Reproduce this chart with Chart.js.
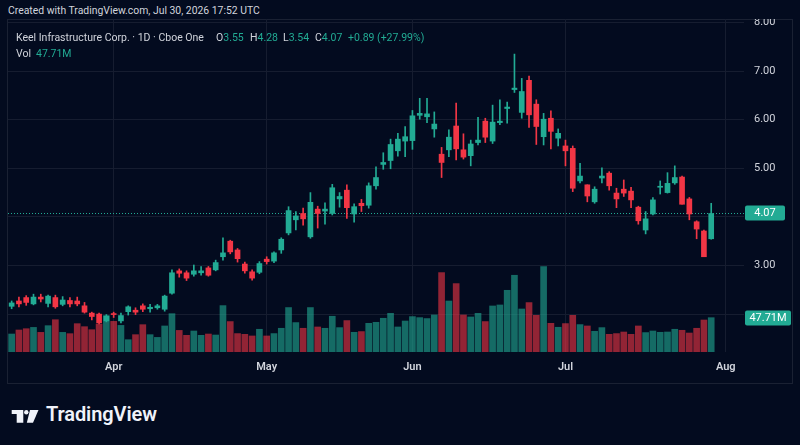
<!DOCTYPE html>
<html>
<head>
<meta charset="utf-8">
<title>Keel Infrastructure Corp. 1D</title>
<script src="https://cdn.jsdelivr.net/npm/chart.js@4.4.1/dist/chart.umd.min.js"></script>
<style>
    html, body { margin: 0; padding: 0; background: #030b1f; }
    body { width: 800px; height: 445px; position: relative; overflow: hidden;
           font-family: Roboto, "Noto Sans", sans-serif; color: #d1d4dc; }
    .abs { position: absolute; white-space: nowrap; }
    .up { color: #22ab94; }
    #hdr { left: 8px; top: 4px; font-size: 10.4px; }
    .lg { font-size: 10.5px; }
    #frame { position: absolute; left: 7px; top: 19px; width: 786px; height: 365px;
             border: 1px solid #1a2133; box-sizing: border-box; }
    #wrap { position: absolute; left: 8px; top: 19px; width: 784px; height: 364px; }
    #brand { left: 46px; top: 402px; font-size: 20px; font-weight: 600; color: #f0f3fa; letter-spacing: -0.1px; }
</style>
</head>
<body>
<div class="abs" id="hdr">Created with TradingView.com, Jul 30, 2026 17:52 UTC</div>
<div id="frame"></div>
<div id="wrap"><canvas id="chart" width="784" height="364"></canvas></div>

<!-- legend row -->
<div class="abs lg" style="left:16px; top:31px;">Keel Infrastructure Corp. · 1D · Cboe One</div>
<div class="abs lg" style="left:216px; top:31px;">O<span class="up">3.55</span></div>
<div class="abs lg" style="left:250px; top:31px;">H<span class="up">4.28</span></div>
<div class="abs lg" style="left:283px; top:31px;">L<span class="up">3.54</span></div>
<div class="abs lg" style="left:315px; top:31px;">C<span class="up">4.07</span></div>
<div class="abs lg up" style="left:348px; top:31px;">+0.89 (+27.99%)</div>
<div class="abs lg" style="left:16px; top:47px;">Vol</div>
<div class="abs lg up" style="left:36px; top:47px;">47.71M</div>

<!-- TradingView mark -->
<svg class="abs" style="left:0; top:400px;" width="44" height="30" viewBox="0 400 44 30">
    <polygon points="11.7,410 23.3,410 23.3,422.7 16.7,422.7 16.7,414 11.7,414" fill="#f0f3fa"/>
    <circle cx="26.3" cy="412.2" r="2.2" fill="#f0f3fa"/>
    <polygon points="30,410 38.5,410 33,422.7 26.8,422.7" fill="#f0f3fa"/>
</svg>
<div class="abs" id="brand">TradingView</div>

<script>
// daily candles, mid March -> Jul 30
const opens = [
    2.16, 2.27, 2.34, 2.21, 2.35, 2.22, 2.34, 2.20, 2.28, 2.27,
    2.17, 2.02, 2.00, 1.86, 2.01, 1.86, 2.05, 2.08, 2.17, 2.11,
    2.13, 2.10, 2.43, 2.89, 2.85, 2.82, 2.85, 2.95, 2.91, 3.18,
    3.50, 3.32, 3.03, 2.87, 2.86, 3.13, 3.09, 3.32, 3.67, 3.94,
    4.07, 3.59, 4.16, 4.12, 4.07, 4.37, 4.55, 4.06, 4.28, 4.24,
    4.64, 5.08, 5.16, 5.36, 5.56, 5.57, 6.09, 6.06, 5.81, 5.29,
    5.38, 5.87, 5.38, 5.26, 5.53, 5.97, 5.56, 5.94, 6.23, 6.62,
    6.15, 6.81, 6.32, 5.65, 6.03, 5.62, 5.46, 5.41, 4.74, 4.66,
    4.31, 4.80, 4.90, 4.49, 4.57, 4.53, 4.20, 3.73, 4.06, 4.61,
    4.50, 4.70, 4.82, 4.37, 3.90, 3.71, 3.55
];
const highs = [
    2.27, 2.35, 2.38, 2.41, 2.41, 2.39, 2.39, 2.36, 2.34, 2.35,
    2.24, 2.04, 2.02, 1.99, 2.04, 2.02, 2.17, 2.13, 2.21, 2.20,
    2.20, 2.39, 2.91, 2.93, 2.89, 3.01, 2.98, 2.98, 3.11, 3.57,
    3.52, 3.35, 3.07, 2.91, 3.08, 3.18, 3.28, 3.57, 4.21, 4.11,
    4.18, 4.50, 4.22, 4.29, 4.67, 4.50, 4.66, 4.27, 4.36, 4.70,
    5.03, 5.32, 5.60, 5.72, 5.86, 6.19, 6.44, 6.44, 6.16, 5.43,
    5.79, 6.34, 5.71, 5.58, 6.05, 6.03, 6.30, 6.41, 6.36, 7.35,
    6.85, 6.90, 6.41, 6.13, 6.18, 5.81, 5.58, 5.46, 5.10, 4.66,
    4.62, 5.01, 4.93, 4.59, 4.76, 4.61, 4.22, 4.11, 4.40, 4.74,
    4.91, 5.05, 4.84, 4.40, 3.92, 3.73, 4.28
];
const lows = [
    2.11, 2.15, 2.18, 2.19, 2.25, 2.15, 2.12, 2.17, 2.15, 2.17,
    2.02, 1.88, 1.80, 1.84, 1.93, 1.82, 1.98, 1.99, 2.05, 2.04,
    2.10, 2.06, 2.41, 2.76, 2.69, 2.78, 2.80, 2.78, 2.89, 3.11,
    3.24, 3.07, 2.84, 2.70, 2.83, 3.03, 3.06, 3.25, 3.63, 3.73,
    3.83, 3.56, 3.77, 3.85, 4.04, 4.20, 3.97, 3.89, 4.11, 4.18,
    4.57, 4.98, 4.99, 5.25, 5.24, 5.39, 6.01, 5.94, 5.64, 4.81,
    5.24, 5.17, 5.19, 5.05, 5.48, 5.53, 5.51, 5.90, 5.93, 6.56,
    6.03, 5.84, 5.49, 5.48, 5.40, 5.46, 5.05, 4.52, 4.70, 4.31,
    4.28, 4.70, 4.55, 4.19, 4.42, 4.19, 3.85, 3.65, 4.04, 4.47,
    4.49, 4.67, 4.26, 3.94, 3.55, 3.18, 3.54
];
const closes = [
    2.23, 2.21, 2.24, 2.35, 2.31, 2.37, 2.15, 2.29, 2.21, 2.21,
    2.04, 1.95, 1.82, 1.96, 1.99, 1.97, 2.15, 2.04, 2.10, 2.14,
    2.17, 2.37, 2.85, 2.84, 2.74, 2.89, 2.89, 2.80, 3.06, 3.26,
    3.28, 3.14, 2.89, 2.74, 3.04, 3.08, 3.26, 3.54, 4.13, 4.02,
    3.96, 4.30, 4.07, 4.16, 4.60, 4.42, 4.19, 4.21, 4.23, 4.64,
    4.81, 5.12, 5.49, 5.60, 5.65, 6.08, 6.13, 6.12, 5.91, 5.12,
    5.64, 5.40, 5.23, 5.50, 5.58, 5.64, 5.95, 5.97, 6.26, 6.65,
    6.58, 6.10, 5.86, 6.01, 5.76, 5.72, 5.36, 4.59, 4.84, 4.43,
    4.57, 4.84, 4.64, 4.37, 4.49, 4.35, 3.92, 3.96, 4.35, 4.63,
    4.69, 4.81, 4.26, 4.06, 3.75, 3.18, 4.07
];
// volume in millions
const volumes = [
    25.0, 30.6, 32.4, 34.2, 27.3, 36.6, 44.9, 27.3, 25.5, 39.4,
    35.2, 31.0, 38.9, 50.5, 42.6, 37.0, 17.1, 24.1, 38.0, 24.1,
    20.3, 36.2, 53.3, 30.0, 23.2, 29.2, 23.2, 25.0, 23.6, 64.5,
    42.3, 25.6, 24.6, 22.3, 31.6, 22.3, 25.6, 33.0, 61.8, 40.9,
    33.0, 61.8, 34.8, 33.0, 49.7, 33.9, 43.7, 27.4, 28.4, 39.9,
    41.3, 46.9, 53.8, 34.8, 43.1, 49.2, 47.8, 46.5, 51.5, 110.4,
    70.9, 95.1, 51.5, 48.7, 53.8, 42.3, 64.0, 65.4, 85.8, 106.7,
    59.8, 68.7, 51.0, 118.8, 39.9, 34.4, 39.5, 51.0, 38.1, 36.2,
    28.8, 33.9, 24.6, 25.6, 27.8, 24.6, 36.2, 27.0, 29.2, 27.4,
    27.8, 31.6, 30.2, 26.4, 33.0, 44.5, 47.71
];

// time axis: bar index where each month starts
const monthNames = ["Apr", "May", "Jun", "Jul", "Aug"];
const monthStart = [14, 35, 55, 76, 98];
const slotCount = 101; // a few empty slots after the last bar

const priceTicks = [2, 3, 4, 5, 6, 7, 8];

const upColor = "#22ab94";
const downColor = "#f23645";
const upVol = "rgba(34, 171, 148, 0.6)";
const downVol = "rgba(242, 54, 69, 0.6)";
const gridColor = "#161d30";
const textColor = "#d1d4dc";

const labels = [];
for (let i = 0; i < slotCount; i++) {
    const m = monthStart.indexOf(i);
    labels.push(m >= 0 ? monthNames[m] : "");
}

const isUp = closes.map((c, i) => c >= opens[i]);
const bodyColors = isUp.map((u) => (u ? upColor : downColor));
const volColors = isUp.map((u) => (u ? upVol : downVol));

const last = closes.length - 1;

// tag on the price axis
function drawTag(ctx, text, x, y, w) {
    ctx.fillStyle = upColor;
    ctx.beginPath();
    ctx.roundRect(x, Math.round(y) - 7.5, w, 15, 2);
    ctx.fill();
    ctx.fillStyle = "#ffffff";
    ctx.font = "11px Roboto, 'Noto Sans', sans-serif";
    ctx.textAlign = "center";
    ctx.textBaseline = "middle";
    ctx.fillText(text, x + w / 2, Math.round(y) + 0.5);
}

// no extra room for edge labels, the plot fills the frame
function noPadding(scale) {
    scale.paddingTop = 0;
    scale.paddingBottom = 0;
    scale.paddingLeft = 0;
    scale.paddingRight = 0;
}

const lastPricePlugin = {
    id: "lastPrice",
    beforeDatasetsDraw(chart) {
        const { ctx, chartArea, scales } = chart;
        const y = Math.round(scales.y.getPixelForValue(closes[last])) + 0.5;
        ctx.save();
        ctx.strokeStyle = upColor;
        ctx.lineWidth = 1;
        ctx.setLineDash([1, 2]);
        ctx.beginPath();
        ctx.moveTo(chartArea.left, y);
        ctx.lineTo(chartArea.right, y);
        ctx.stroke();
        ctx.restore();
    },
    afterDraw(chart) {
        const { ctx, chartArea, scales } = chart;
        ctx.save();
        drawTag(ctx, closes[last].toFixed(2), chartArea.right + 1, scales.y.getPixelForValue(closes[last]), 40);
        drawTag(ctx, volumes[last].toFixed(2) + "M", chartArea.right + 1, scales.yv.getPixelForValue(volumes[last]), 46);
        ctx.restore();
    },
};

new Chart(document.getElementById("chart"), {
    type: "bar",
    data: {
        labels: labels,
        datasets: [
            {
                // candle bodies
                data: opens.map((o, i) => [o, closes[i]]),
                backgroundColor: bodyColors,
                barThickness: 5,
                minBarLength: 1,
                grouped: false,
                yAxisID: "y",
                order: 0,
            },
            {
                // wicks
                data: lows.map((l, i) => [l, highs[i]]),
                backgroundColor: bodyColors,
                barThickness: 1,
                grouped: false,
                yAxisID: "y",
                order: 1,
            },
            {
                data: volumes,
                backgroundColor: volColors,
                barThickness: 6,
                grouped: false,
                yAxisID: "yv",
                order: 2,
            },
        ],
    },
    options: {
        responsive: false,
        animation: false,
        layout: { padding: 0 },
        plugins: {
            legend: { display: false },
            tooltip: { enabled: false },
        },
        scales: {
            x: {
                offset: true,
                border: { display: false },
                grid: {
                    drawTicks: false,
                    offset: false,
                    color: (ctx) => (ctx.tick && ctx.tick.label ? gridColor : "transparent"),
                },
                ticks: {
                    autoSkip: false,
                    maxRotation: 0,
                    padding: 9,
                    color: textColor,
                    font: { family: "Roboto, 'Noto Sans', sans-serif", size: 11, weight: "600" },
                },
                afterFit: (scale) => {
                    scale.height = 31;
                    noPadding(scale);
                },
            },
            y: {
                position: "right",
                min: 1.22,
                max: 8.072,
                border: { display: false },
                grid: { drawTicks: false, color: gridColor },
                afterBuildTicks: (scale) => {
                    scale.ticks = priceTicks.map((v) => ({ value: v }));
                },
                ticks: {
                    padding: 10,
                    color: textColor,
                    font: { family: "Roboto, 'Noto Sans', sans-serif", size: 11 },
                    // 2.00 and 4.00 sit under the value tags
                    callback: (v) => (v === 2 || v === 4 ? "" : v.toFixed(2)),
                },
                afterFit: (scale) => {
                    scale.width = 48;
                    noPadding(scale);
                },
            },
            yv: {
                display: false,
                min: 0,
                max: 463,
            },
        },
    },
    plugins: [lastPricePlugin],
});
</script>
</body>
</html>
